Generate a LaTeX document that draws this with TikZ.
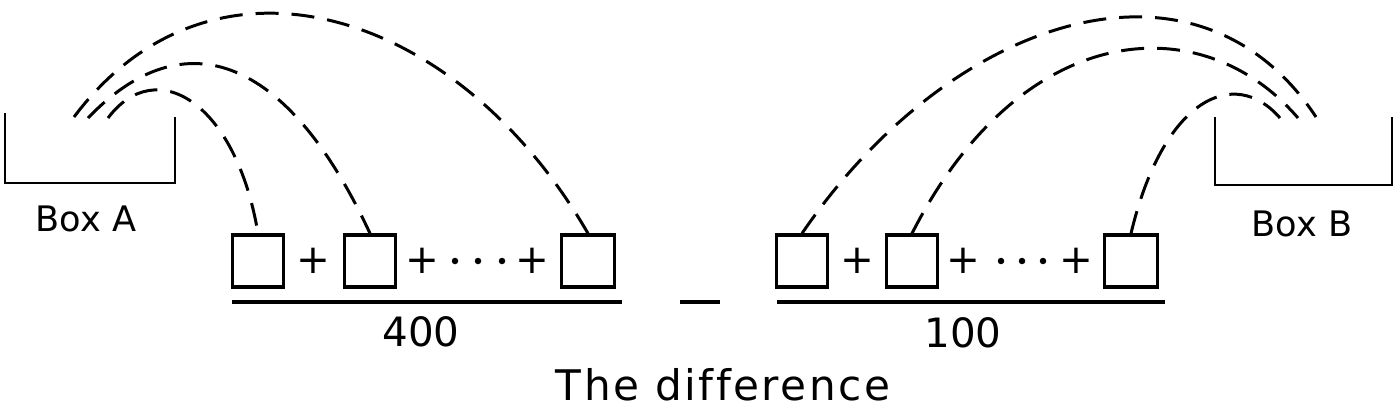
\documentclass[tikz,border=0pt]{standalone}
\usepackage{fontspec}
\setmainfont{DejaVu Sans}

\begin{document}
\begin{tikzpicture}[x=0.02cm, y=-0.02cm,
  sq/.style={draw, line width=1.8pt, minimum width=1.02cm, minimum height=1.04cm, inner sep=0pt},
  arc/.style={line width=1.7pt, dash pattern=on 0.46cm off 0.26cm},
  dot/.style={circle, fill, inner sep=0pt, minimum size=0.13cm},
  lbl/.style={font=\fontsize{20}{24}\selectfont},
  num/.style={font=\fontsize{23}{27}\selectfont}]
\useasboundingbox (0,0) rectangle (1398,409);

\def\r{261}

% the two boxes
\draw[line width=1.4pt] (5,113) -- (5,183) -- (175,183) -- (175,117);
\draw[line width=1.4pt] (1215,117) -- (1215,185) -- (1392,185) -- (1392,117);
\node[lbl] (boxa) at (86,219) {Box A};
\node[lbl] (boxb) at (1302,224) {Box B};

% left sum
\node[sq] (a1) at (258,\r) {};
\node[sq] (a2) at (370,\r) {};
\node[sq, minimum width=1.06cm] (a3) at (588,\r) {};
\node[num] (pa1) at (313,\r) {+};
\node[num] (pa2) at (422,\r) {+};
\node[num] (pa3) at (532,\r) {+};
\foreach \x [count=\i] in {455,478,502}
  \node[dot] (da\i) at (\x,\r) {};

% right sum
\node[sq] (b1) at (802,\r) {};
\node[sq] (b2) at (912,\r) {};
\node[sq, minimum width=1.06cm] (b3) at (1131,\r) {};
\node[num] (pb1) at (857,\r) {+};
\node[num] (pb2) at (963,\r) {+};
\node[num] (pb3) at (1076,\r) {+};
\foreach \x [count=\i] in {1001,1022,1043}
  \node[dot] (db\i) at (\x,\r) {};

% bars and minus
\draw[line width=1.8pt] (232,302) -- (622,302);
\draw[line width=1.8pt] (777,302) -- (1165,302);
\draw[line width=1.8pt] (680,302) -- (720,302);
\node[num] (n400) at (421,332) {400};
\node[num] (n100) at (963,333) {100};
\node[inner sep=1pt, font=\fontsize{24}{28}\selectfont\addfontfeature{LetterSpace=6, Ligatures=NoCommon}] (diff) at (723,385) {The difference};

% arcs out of box A
\coordinate (sa1) at (108,118);
\coordinate (sa2) at (88,118);
\coordinate (sa3) at (74,117);
\draw[arc] (sa1) .. controls (156,54) and (236,102) .. (a1.north);
\draw[arc] (sa2) .. controls (185,17) and (288,57) .. (a2.north);
\draw[arc] (sa3) .. controls (212,-67) and (457,7) .. (a3.north);

% arcs into box B
\coordinate (sb1) at (1280,118);
\coordinate (sb2) at (1298,118);
\coordinate (sb3) at (1316,117);
\draw[arc] (b1.north) .. controls (948,19) and (1195,-66) .. (sb3);
\draw[arc] (b2.north) .. controls (1020,21) and (1200,4) .. (sb2);
\draw[arc] (b3.north) .. controls (1163,99) and (1234,65) .. (sb1);

\end{tikzpicture}
\end{document}
